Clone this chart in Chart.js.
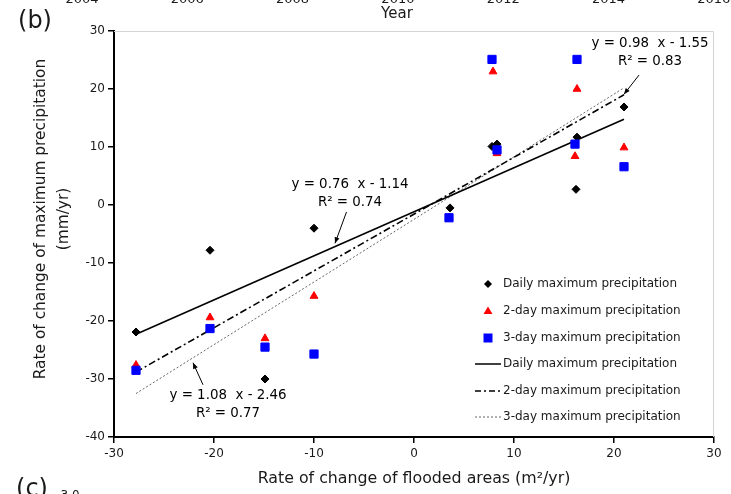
<!DOCTYPE html>
<html>
<head>
<meta charset="utf-8">
<script src="https://cdn.jsdelivr.net/npm/chart.js@4.4.0/dist/chart.umd.min.js"></script>
<style>
  html, body { margin: 0; padding: 0; background: #fff; }
  #wrap { width: 731px; height: 494px; position: relative; }
</style>
</head>
<body>
<div id="wrap"><canvas id="grafico"></canvas></div>
<script>
const FONT = '"DejaVu Sans", sans-serif';

// Datos
const seriesNames = ['Daily maximum precipitation', '2-day maximum precipitation', '3-day maximum precipitation'];
const dailyX = [-27.8, -20.4, -14.9, -10.0, 3.6, 7.8, 8.3, 16.2, 16.3, 21.0];
const dailyY = [-21.9, -7.8, -30.0, -4.0, -0.5, 10.1, 10.5, 2.7, 11.7, 16.9];
const twoDayX = [-27.8, -20.4, -14.9, -10.0, 3.5, 7.9, 8.3, 16.1, 16.3, 21.0];
const twoDayY = [-27.6, -19.4, -23.0, -15.7, -2.2, 23.0, 8.9, 8.4, 20.0, 9.9];
const threeDayX = [-27.8, -20.4, -14.9, -10.0, 3.5, 7.8, 8.3, 16.1, 16.3, 21.0];
const threeDayY = [-28.5, -21.3, -24.5, -25.7, -2.2, 25.1, 9.5, 10.5, 25.1, 6.6];

// Lineas de tendencia (extremos)
const trendX = [-27.8, 21.0];
const trendDailyY = [-22.3, 14.8];
const trendTwoDayY = [-28.8, 19.0];
const trendThreeDayY = [-32.5, 20.2];

// Ejes
const xTicks = [-30, -20, -10, 0, 10, 20, 30];
const yTicks = [-40, -30, -20, -10, 0, 10, 20, 30];

// Ecuaciones
const eqDaily = ['y = 0.76  x - 1.14', 'R² = 0.74'];
const eqTwoDay = ['y = 0.98  x - 1.55', 'R² = 0.83'];
const eqThreeDay = ['y = 1.08  x - 2.46', 'R² = 0.77'];

const topYears = ['2004', '2006', '2008', '2010', '2012', '2014', '2016'];

const pts = (xs, ys) => xs.map((x, i) => ({ x, y: ys[i] }));

// Etiquetas y flechas (posiciones en coordenadas de datos)
const anotaciones = [
  { text: eqDaily, x: -6.4, y: 3.6, from: [-6.75, -1.2], to: [-7.9, -6.6] },
  { text: eqTwoDay, x: 23.6, y: 27.9, from: [22.5, 22.4], to: [21.0, 19.1] },
  { text: eqThreeDay, x: -18.6, y: -32.8, from: [-21.1, -31.0], to: [-22.1, -27.2] }
];

function flecha(ctx, x1, y1, x2, y2) {
  ctx.beginPath();
  ctx.moveTo(x1, y1);
  ctx.lineTo(x2, y2);
  ctx.stroke();
  const a = Math.atan2(y2 - y1, x2 - x1);
  const L = 6, W = 2.5;
  ctx.beginPath();
  ctx.moveTo(x2, y2);
  ctx.lineTo(x2 - L * Math.cos(a) + W * Math.sin(a), y2 - L * Math.sin(a) - W * Math.cos(a));
  ctx.lineTo(x2 - L * Math.cos(a) - W * Math.sin(a), y2 - L * Math.sin(a) + W * Math.cos(a));
  ctx.closePath();
  ctx.fill();
}

function marcador(ctx, tipo, x, y) {
  ctx.beginPath();
  if (tipo === 'rectRot') {
    ctx.fillStyle = '#000';
    ctx.moveTo(x - 4, y); ctx.lineTo(x, y - 4); ctx.lineTo(x + 4, y); ctx.lineTo(x, y + 4);
  } else if (tipo === 'triangle') {
    ctx.fillStyle = '#ff0000';
    ctx.moveTo(x, y - 4.5); ctx.lineTo(x + 4.5, y + 3); ctx.lineTo(x - 4.5, y + 3);
  } else {
    ctx.fillStyle = '#0000ff';
    ctx.rect(x - 4.5, y - 4.5, 9, 9);
  }
  ctx.closePath();
  ctx.fill();
}

const textosPlugin = {
  id: 'textos',
  beforeDraw(chart) {
    const ctx = chart.ctx;
    ctx.save();
    ctx.fillStyle = '#fff';
    ctx.fillRect(0, 0, chart.width, chart.height);
    ctx.restore();
  },
  afterDraw(chart) {
    const ctx = chart.ctx;
    const xs = chart.scales.x, ys = chart.scales.y;
    const area = chart.chartArea;
    ctx.save();

    // borde gris del area
    ctx.strokeStyle = '#d4d4d4';
    ctx.lineWidth = 1;
    ctx.beginPath();
    ctx.moveTo(area.left, area.top + 0.5);
    ctx.lineTo(area.right - 0.5, area.top + 0.5);
    ctx.lineTo(area.right - 0.5, area.bottom);
    ctx.stroke();

    ctx.fillStyle = '#1a1a1a';
    ctx.textAlign = 'center';

    // restos del panel anterior (cortados arriba)
    ctx.textBaseline = 'alphabetic';
    ctx.font = '13px ' + FONT;
    topYears.forEach((t, i) => ctx.fillText(t, 82 + i * 105.3, 3));

    ctx.textBaseline = 'middle';
    ctx.font = '15px ' + FONT;
    ctx.fillText('Year', 397, 14);

    // letras de panel
    ctx.font = '24px ' + FONT;
    ctx.fillText('(b)', 35, 22);
    ctx.fillText('(c)', 32, 490);
    ctx.font = '12px ' + FONT;
    ctx.fillText('3.0', 70, 496);

    // titulos de ejes
    ctx.font = '15.8px ' + FONT;
    ctx.fillText('Rate of change of flooded areas (m²/yr)', 414, 479);
    ctx.save();
    ctx.translate(41, 219);
    ctx.rotate(-Math.PI / 2);
    ctx.font = '15.4px ' + FONT;
    ctx.fillText('Rate of change of maximum precipitation', 0, 0);
    ctx.fillText('(mm/yr)', 0, 23);
    ctx.restore();

    // ecuaciones con flechas
    ctx.font = '13.4px ' + FONT;
    ctx.strokeStyle = '#000';
    ctx.lineWidth = 1;
    ctx.fillStyle = '#000';
    anotaciones.forEach(a => {
      const px = xs.getPixelForValue(a.x), py = ys.getPixelForValue(a.y);
      ctx.fillText(a.text[0], px, py);
      ctx.fillText(a.text[1], px, py + 18);
      flecha(ctx, xs.getPixelForValue(a.from[0]), ys.getPixelForValue(a.from[1]),
        xs.getPixelForValue(a.to[0]), ys.getPixelForValue(a.to[1]));
    });

    // leyenda
    ctx.font = '12px ' + FONT;
    ctx.textAlign = 'left';
    ctx.fillStyle = '#1a1a1a';
    const lx = 488, tx = 503;
    const filas = [284, 311, 338, 364, 391, 417];
    ['rectRot', 'triangle', 'rect'].forEach((t, i) => {
      marcador(ctx, t, lx, filas[i]);
      ctx.fillStyle = '#1a1a1a';
      ctx.fillText(seriesNames[i], tx, filas[i]);
    });
    const estilos = [
      { dash: [], color: '#000', w: 1.5 },
      { dash: [6, 3, 2, 3], color: '#000', w: 1.5 },
      { dash: [2, 2], color: '#666', w: 1 }
    ];
    estilos.forEach((s, i) => {
      const y = filas[3 + i];
      ctx.setLineDash(s.dash);
      ctx.strokeStyle = s.color;
      ctx.lineWidth = s.w;
      ctx.beginPath();
      ctx.moveTo(475, y);
      ctx.lineTo(501, y);
      ctx.stroke();
      ctx.setLineDash([]);
      ctx.fillStyle = '#1a1a1a';
      ctx.fillText(seriesNames[i], tx, y);
    });

    ctx.restore();
  }
};

const ctx = document.getElementById('grafico').getContext('2d');
window.grafico = new Chart(ctx, {
  type: 'scatter',
  data: {
    datasets: [
      {
        label: seriesNames[2],
        data: pts(threeDayX, threeDayY),
        pointStyle: 'rect',
        pointRadius: 5.8,
        backgroundColor: '#0000ff',
        borderColor: '#0000ff',
        borderWidth: 1
      },
      {
        label: seriesNames[1],
        data: pts(twoDayX, twoDayY),
        pointStyle: 'triangle',
        pointRadius: 4.5,
        backgroundColor: '#ff0000',
        borderColor: '#ff0000',
        borderWidth: 1
      },
      {
        label: seriesNames[0],
        data: pts(dailyX, dailyY),
        pointStyle: 'rectRot',
        pointRadius: 4,
        backgroundColor: '#000',
        borderColor: '#000',
        borderWidth: 1
      },
      {
        label: seriesNames[0] + ' (tendencia)',
        data: pts(trendX, trendDailyY),
        showLine: true,
        pointRadius: 0,
        borderColor: '#000',
        borderWidth: 1.6
      },
      {
        label: seriesNames[1] + ' (tendencia)',
        data: pts(trendX, trendTwoDayY),
        showLine: true,
        pointRadius: 0,
        borderColor: '#000',
        borderWidth: 1.6,
        borderDash: [7, 3, 2, 3]
      },
      {
        label: seriesNames[2] + ' (tendencia)',
        data: pts(trendX, trendThreeDayY),
        showLine: true,
        pointRadius: 0,
        borderColor: '#666',
        borderWidth: 1,
        borderDash: [2, 2]
      }
    ]
  },
  options: {
    responsive: true,
    maintainAspectRatio: false,
    animation: false,
    layout: { padding: { top: 31, right: 17, left: 0, bottom: 0 } },
    plugins: {
      legend: { display: false },
      tooltip: { enabled: false }
    },
    scales: {
      x: {
        type: 'linear',
        min: xTicks[0],
        max: xTicks[xTicks.length - 1],
        afterBuildTicks: s => { s.ticks = xTicks.map(v => ({ value: v })); },
        afterFit: s => { s.height = 57; },
        border: { display: true, color: '#000', width: 2 },
        grid: { drawOnChartArea: false, drawTicks: true, tickLength: 6, color: '#000', lineWidth: 1.5 },
        ticks: { color: '#1a1a1a', font: { family: FONT, size: 12 }, padding: 4, maxRotation: 0 }
      },
      y: {
        type: 'linear',
        min: yTicks[0],
        max: yTicks[yTicks.length - 1],
        afterBuildTicks: s => { s.ticks = yTicks.map(v => ({ value: v })); },
        afterFit: s => { s.width = 114; },
        border: { display: true, color: '#000', width: 2 },
        grid: { drawOnChartArea: false, drawTicks: true, tickLength: 6, color: '#000', lineWidth: 1.5 },
        ticks: { color: '#1a1a1a', font: { family: FONT, size: 12 }, padding: 3 }
      }
    }
  },
  plugins: [textosPlugin]
});
</script>
</body>
</html>
